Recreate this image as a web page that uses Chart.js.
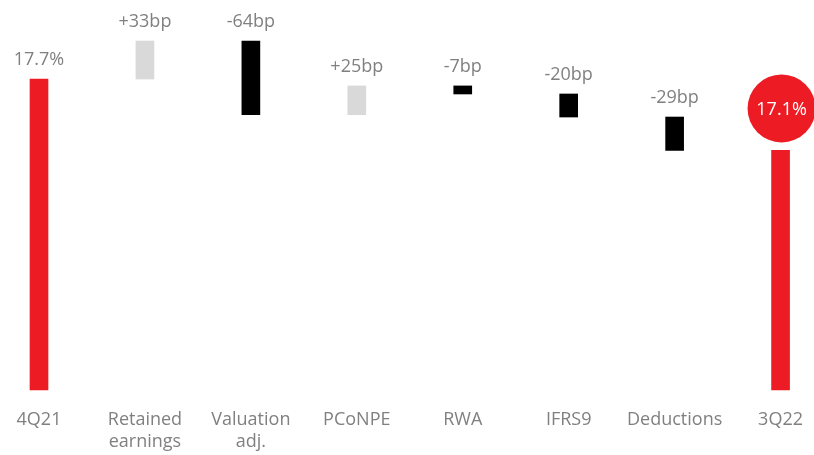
<!DOCTYPE html>
<html lang="en">
<head>
    <meta charset="UTF-8">
    <title>CET1 walk 4Q21 - 3Q22</title>
    <script src="https://cdn.jsdelivr.net/npm/chart.js"></script>
    <style>
        html, body { margin: 0; padding: 0; background: #fff; }
        #wrap { width: 814px; height: 455px; }
    </style>
</head>
<body>
    <div id="wrap"><canvas id="walkChart"></canvas></div>

    <script>
        // categories and values
        const categories = ['4Q21', ['Retained', 'earnings'], ['Valuation', 'adj.'], 'PCoNPE', 'RWA', 'IFRS9', 'Deductions', '3Q22'];
        const startValue = 17.7;                        // %
        const deltasBp = [33, -64, 25, -7, -20, -29];   // basis points
        const axisMin = 15;

        const red = '#ED1C24';
        const grey = '#D9D9D9';
        const textGrey = '#808080';

        // build floating bars from the walk
        const bars = [[axisMin, startValue]];
        const colors = [red];
        const labels = [startValue.toFixed(1) + '%'];
        let level = startValue;
        deltasBp.forEach(d => {
            const next = level + d / 100;
            bars.push([level, next]);
            colors.push(d >= 0 ? grey : '#000000');
            labels.push((d >= 0 ? '+' : '') + d + 'bp');
            level = next;
        });
        bars.push([axisMin, level]);
        colors.push(red);
        labels.push(level.toFixed(1) + '%');

        const barLabels = {
            id: 'barLabels',
            afterDatasetsDraw(chart) {
                const ctx = chart.ctx;
                const meta = chart.getDatasetMeta(0);
                ctx.save();
                ctx.font = '18px "Open Sans"';
                ctx.textAlign = 'center';
                meta.data.forEach((bar, i) => {
                    const top = Math.min(bar.y, bar.base);
                    if (i === meta.data.length - 1) {
                        const cy = top - 42;
                        ctx.fillStyle = red;
                        ctx.beginPath();
                        ctx.arc(bar.x + 1, cy, 34, 0, Math.PI * 2);
                        ctx.fill();
                        ctx.fillStyle = '#fff';
                        ctx.textBaseline = 'middle';
                        ctx.fillText(labels[i], bar.x + 1, cy + 1);
                    } else {
                        ctx.fillStyle = textGrey;
                        ctx.textBaseline = 'middle';
                        ctx.fillText(labels[i], bar.x, top - 19);
                    }
                });
                ctx.restore();
            }
        };

        new Chart(document.getElementById('walkChart'), {
            type: 'bar',
            data: {
                labels: categories,
                datasets: [{
                    data: bars,
                    backgroundColor: colors,
                    borderWidth: 0,
                    barThickness: 18,
                    clip: false
                }]
            },
            options: {
                responsive: true,
                maintainAspectRatio: false,
                animation: false,
                layout: { padding: { left: 39, right: 25, top: 0, bottom: 0 } },
                plugins: {
                    legend: { display: false },
                    tooltip: { enabled: false }
                },
                scales: {
                    x: {
                        offset: false,
                        grid: { display: false },
                        border: { display: false },
                        afterFit: s => { s.height = 65; },
                        ticks: {
                            color: textGrey,
                            font: { family: 'Open Sans', size: 18 },
                            padding: 11,
                            maxRotation: 0,
                            autoSkip: false
                        }
                    },
                    y: {
                        display: false,
                        min: axisMin,
                        max: 18.386
                    }
                }
            },
            plugins: [barLabels]
        });
    </script>
</body>
</html>
